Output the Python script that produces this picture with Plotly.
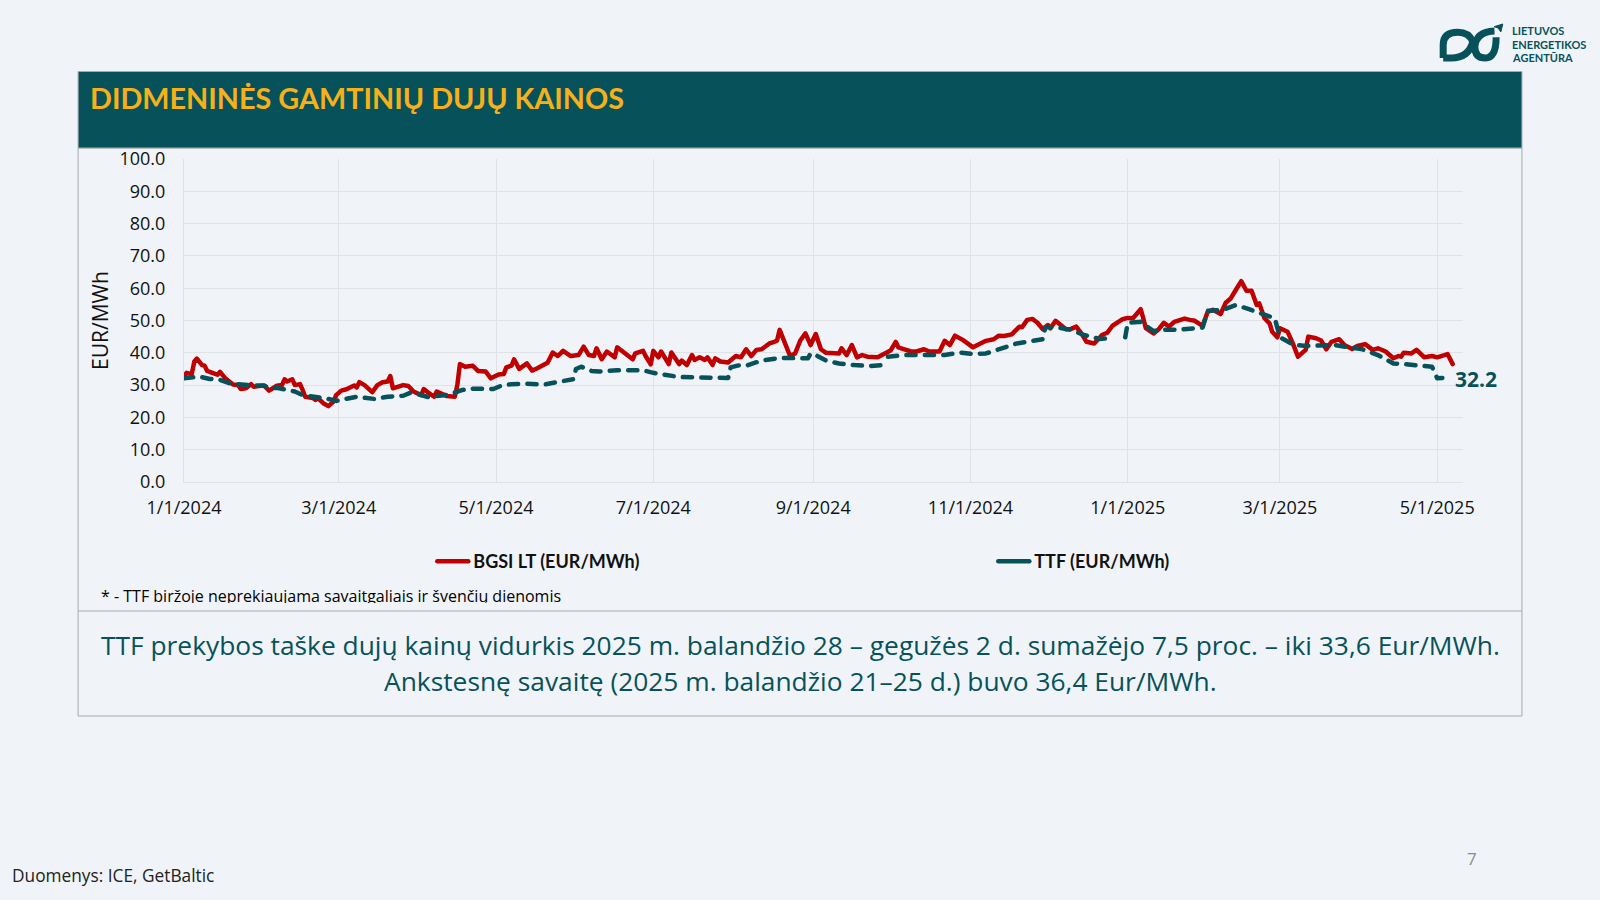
import pandas as pd
import plotly.graph_objects as go

START = pd.Timestamp("2024-01-01")

bgsi_days_a = [0,1,3,4,5,7,8,9,11,13,14,16,19,21,22,24,26,27,29,31,33,36,38,39,40,42,43,45,46,47,50,51,52,54,56,58,59,61,63,66,67,68,70,73,75,77,79,80,81,85,87,89,92,93,95,97,98,100,102,105,106,107,109,112,114,117,119,122,124,125,127,128,130,133,135,137,139,141,143,145,147,150,153,155]
bgsi_vals_a = [32.6,33.8,33.4,37.3,38.2,36.2,36.0,34.4,33.8,33.2,34.1,32.1,30.2,30.0,28.8,29.0,30.3,29.5,29.7,29.9,28.3,29.8,30.0,31.8,31.1,31.8,30.0,30.3,28.5,26.4,26.0,25.4,25.9,24.4,23.5,24.9,26.9,28.3,28.7,29.9,29.3,30.9,30.0,27.8,30.0,30.9,31.1,32.8,29.0,30.0,29.7,28.0,26.9,28.8,27.5,26.4,28.0,27.2,26.6,26.4,30.0,36.5,35.7,36.0,34.4,34.2,32.1,33.3,33.4,35.5,36.0,38.0,35.0,36.7,34.5,35.2,36.2,36.9,40.1,39.0,40.6,39.0,39.3,41.9]
bgsi_days_b = [157,159,160,162,164,167,168,170,172,174,175,178,179,181,182,184,185,188,189,192,193,195,197,198,200,202,203,205,206,208,211,214,216,218,220,222,224,227,229,230,231,233,235,237,239,241,243,245,247,249,252,254,255,257,259,261,263,265,269,272,274,276,277,280,282,284,287,289,293,295,297,299,302,306,308,311,314,316]
bgsi_vals_b = [39.3,39.0,41.4,38.0,40.4,38.6,41.7,40.4,39.3,38.0,39.8,40.6,39.0,36.4,40.6,38.6,40.4,36.5,40.1,36.5,37.6,36.2,39.3,37.8,38.6,37.8,38.6,36.2,38.3,37.3,37.0,39.0,38.6,41.1,39.0,40.9,41.1,42.9,43.4,43.8,47.1,43.4,39.1,39.8,43.8,46.0,42.4,45.8,41.1,40.0,40.0,39.8,41.4,39.3,42.4,38.6,39.3,38.8,38.6,39.8,40.7,43.4,41.7,40.9,40.4,40.4,41.1,40.4,40.4,43.7,42.4,45.3,44.0,41.7,42.4,43.7,44.2,45.3]
bgsi_days_c = [318,321,324,325,327,329,331,333,335,336,338,340,342,344,346,348,350,353,356,358,360,364,366,368,371,372,373,376,378,380,382,384,388,390,392,395,397,399,402,404,406,408,410,412,414,416,417,419,421,422,424,425,428,430,432,435,436,439,441,443,445,448,450,453,455,458,461,463,466,469,471,472,473,476,478,481,484,486,490,492]
bgsi_vals_c = [45.2,45.7,48.1,47.9,50.2,50.5,49.3,47.3,48.6,47.6,49.9,48.6,47.3,47.4,48.1,46.0,43.4,42.9,45.5,46.2,48.3,50.4,50.8,50.7,53.5,50.7,47.6,46.0,47.3,49.3,48.1,49.6,50.6,50.2,49.9,48.3,52.7,53.3,52.0,55.5,56.9,59.6,62.2,59.2,59.2,54.8,55.3,50.7,49.1,46.5,44.8,47.6,46.5,42.9,38.8,40.9,45.0,44.5,43.8,41.1,43.4,44.2,42.4,41.2,42.1,42.7,40.9,41.4,40.4,38.3,39.0,38.8,40.0,39.8,40.9,38.6,39.0,38.6,39.6,36.5]

ttf_days = [0,3,6,10,14,18,21,26,31,34,36,39,43,46,50,55,59,63,67,74,79,85,88,92,95,98,103,105,108,112,120,123,127,133,140,145,151,152,154,
            158,161,168,178,182,187,192,198,205,211,212,215,218,224,231,236,242,243,245,249,254,260,266,271,272,273,276,280,288,295,301,306,311,316,
            323,333,334,338,344,349,355,359,362,365,366,371,376,380,385,395,397,403,408,413,419,423,425,430,435,441,446,452,457,463,469,473,482,484,486,488]
ttf_vals = [32.1,32.4,32.6,31.9,31.6,30.5,30.2,29.9,29.8,29.0,29.2,28.7,28.0,26.9,26.6,25.9,25.1,25.6,26.4,25.7,26.4,26.7,27.7,26.9,26.2,26.6,27.1,27.7,28.5,28.9,28.8,29.8,30.3,30.4,30.2,31.0,31.8,35.0,35.7,
            34.4,34.2,34.6,34.6,33.8,33.2,32.5,32.4,32.2,32.2,35.5,36.1,36.0,37.6,38.4,38.2,38.3,39.8,39.3,37.6,36.7,36.2,35.9,36.2,None,38.8,39.0,39.3,39.3,39.3,40.1,39.6,39.8,41.1,
            42.9,44.2,47.9,47.9,47.1,45.5,44.3,44.5,None,44.8,49.3,49.6,46.7,47.1,47.1,47.8,53.0,53.3,54.8,53.5,51.7,50.7,44.8,42.6,42.1,42.2,42.4,41.7,41.1,39.3,36.7,36.5,35.7,35.7,32.1,32.2]

y_ticks = [0,10,20,30,40,50,60,70,80,90,100]
x_tick_dates = ["2024-01-01","2024-03-01","2024-05-01","2024-07-01","2024-09-01","2024-11-01","2025-01-01","2025-03-01","2025-05-01"]
x_tick_labels = ["1/1/2024","3/1/2024","5/1/2024","7/1/2024","9/1/2024","11/1/2024","1/1/2025","3/1/2025","5/1/2025"]

BG = "#f0f4f8"; TEAL = "#07525a"; RED = "#c00000"; GOLD = "#f6b11a"; GRID = "#e0e2e5"; FRAME = "#a6a9ac"
FONT = "Open Sans"
W, H = 1600, 900
L, R, T, B = 183.5, 1463.5, 159, 482

def px(x): return (x - L) / (R - L)
def py(y): return (B - y) / (B - T)

bgsi_dates = [START + pd.Timedelta(days=d) for d in bgsi_days_a + bgsi_days_b + bgsi_days_c]
ttf_dates = [START + pd.Timedelta(days=d) for d in ttf_days]

fig = go.Figure()
fig.add_trace(go.Scatter(x=bgsi_dates, y=bgsi_vals_a + bgsi_vals_b + bgsi_vals_c, mode="lines",
                         name="BGSI LT (EUR/MWh)", line=dict(color=RED, width=4.5)))
fig.add_trace(go.Scatter(x=ttf_dates, y=ttf_vals, mode="lines", name="TTF (EUR/MWh)", showlegend=False,
                         connectgaps=False, line=dict(color=TEAL, width=4.5, dash="9.25px,9.2px")))
fig.add_trace(go.Scatter(x=[None], y=[None], mode="lines", name="TTF (EUR/MWh)",
                         line=dict(color=TEAL, width=4.5)))

def rect(x0, y0, x1, y1, fill=None, line=FRAME, width=1):
    return dict(type="rect", xref="paper", yref="paper", x0=px(x0), x1=px(x1), y0=py(y0), y1=py(y1),
                fillcolor=fill if fill else "rgba(0,0,0,0)", line=dict(color=line, width=width), layer="below")

def logo_path(points):
    out = []
    for cmd, *c in points:
        s = cmd
        for i in range(0, len(c), 2):
            s += f" {px(1380 + c[i] / 3):.5f},{py(c[i + 1] / 3):.5f}"
        out.append(s)
    return " ".join(out)

lobe_a = [("M",191,174),("L",191,135),("Q",191,97,235,97),("Q",268,97,280,125),("Q",268,174,215,174),("L",191,174)]
lobe_b = [("M",345,93),("Q",290,95,286,140),("Q",286,174,318,174),("Q",350,174,350,112)]
spark = [("M",344,80),("L",370,72),("L",364,96),("L",356,84),("Z",)]

shapes = [
    rect(77.5, 148, 1522.5, 716),
    rect(77.5, 71.5, 1522.5, 148, fill=TEAL),
    dict(type="line", xref="paper", yref="paper", x0=px(77.5), x1=px(1522.5), y0=py(611), y1=py(611),
         line=dict(color=FRAME, width=1), layer="below"),
    dict(type="path", xref="paper", yref="paper", path=logo_path(lobe_a), line=dict(color=TEAL, width=7)),
    dict(type="path", xref="paper", yref="paper", path=logo_path(lobe_b), line=dict(color=TEAL, width=7)),
    dict(type="path", xref="paper", yref="paper", path=logo_path(spark), fillcolor=TEAL, line=dict(color=TEAL, width=1)),
]

def note(text, x, y, size, color="#000000", anchor="left", bold=False, family=FONT):
    return dict(text=f"<b>{text}</b>" if bold else text, xref="paper", yref="paper", x=px(x), y=py(y),
                xanchor=anchor, yanchor="middle", showarrow=False, font=dict(family=family, size=size, color=color))

annotations = [
    note("DIDMENINĖS GAMTINIŲ DUJŲ KAINOS", 87, 98, 28.8, GOLD, bold=True, family="Lato"),
    note("* - TTF biržoje neprekiaujama savaitgaliais ir švenčių dienomis", 98, 596, 16),
    dict(text=" ", xref="paper", yref="paper", x=px(95), y=py(605), xanchor="left", yanchor="middle", showarrow=False,
         width=490, height=5, bgcolor=BG, borderpad=0, borderwidth=0, font=dict(size=4)),
    note("TTF prekybos taške dujų kainų vidurkis 2025 m. balandžio 28 – gegužės 2 d. sumažėjo 7,5 proc. – iki 33,6 Eur/MWh.", 800, 645, 26.35, TEAL, "center"),
    note("Ankstesnę savaitę (2025 m. balandžio 21–25 d.) buvo 36,4 Eur/MWh.", 800, 681, 26.35, TEAL, "center"),
    note("7", 1473, 858, 17, "#8c8c8c", "center"),
    note("Duomenys: ICE, GetBaltic", 9, 875, 17.3, "#222222"),
    note("LIETUVOS", 1510.5, 30, 11, TEAL, bold=True, family="Lato"),
    note("ENERGETIKOS", 1510.5, 44, 11, TEAL, bold=True, family="Lato"),
    note("AGENTŪRA", 1510.5, 57.5, 11, TEAL, bold=True, family="Lato"),
    dict(text="<b>32.2</b>", x=ttf_dates[-1], y=ttf_vals[-1], xref="x", yref="y", xanchor="left", yanchor="middle",
         xshift=11, yshift=-1, showarrow=False, font=dict(family=FONT, size=21, color=TEAL)),
]

fig.update_layout(
    width=W, height=H, autosize=False,
    margin=dict(l=L, r=W - R, t=T, b=H - B, pad=0),
    paper_bgcolor=BG, plot_bgcolor=BG,
    font=dict(family=FONT, size=17, color="#111111"),
    shapes=shapes, annotations=annotations,
    legend=dict(orientation="h", x=px(432), y=py(543), xanchor="left", yanchor="top",
                itemwidth=31, entrywidth=515, entrywidthmode="pixels", bgcolor="rgba(0,0,0,0)",
                font=dict(family="Lato", size=18, color="#111111", weight="bold"), itemclick=False),
    xaxis=dict(type="date", range=[START, START + pd.Timedelta(days=496)], tickmode="array",
               tickvals=x_tick_dates, ticktext=x_tick_labels, showgrid=True, gridcolor=GRID, gridwidth=1,
               showline=True, linecolor=GRID, ticks="", zeroline=False, tickangle=0, ticklabelstandoff=9,
               tickfont=dict(family=FONT, size=18, color="#111111")),
    yaxis=dict(range=[0, 100], tickmode="array", tickvals=y_ticks, tickformat=".1f", showgrid=True,
               gridcolor=GRID, gridwidth=1, showline=True, linecolor=GRID, ticks="", zeroline=False,
               ticklabelstandoff=14,
               title=dict(text="EUR/MWh", font=dict(family=FONT, size=21, color="#111111"), standoff=5),
               tickfont=dict(family=FONT, size=18, color="#111111")),
)

fig.write_html("out.html", config=dict(displayModeBar=False), post_script="""
document.body.style.margin='0';
document.querySelectorAll('.js-line').forEach(function(e){e.style.strokeLinecap='round';e.style.strokeLinejoin='round';});
""")
